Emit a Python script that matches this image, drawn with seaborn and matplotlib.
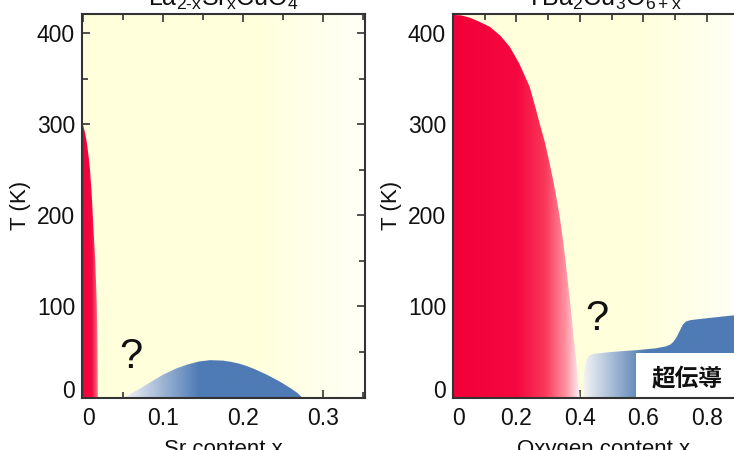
import numpy as np
import pandas as pd
import seaborn as sns
import matplotlib
matplotlib.use("Agg")
import matplotlib.pyplot as plt
from matplotlib.colors import LinearSegmentedColormap
from matplotlib.patches import Rectangle
import matplotlib.transforms as mtrans

# ---------------- data ----------------
lsco_title = r"La$_{\mathrm{2\text{-}x}}$Sr$_{\mathrm{x}}$CuO$_{\mathrm{4}}$"
ybco_title = r"YBa$_{\mathrm{2}}$Cu$_{\mathrm{3}}$O$_{\mathrm{6+x}}$"

lsco_xlabel = "Sr content x"
ybco_xlabel = "Oxygen content x"
ylabel = "T (K)"

# La2-xSrxCuO4 antiferromagnetic boundary (T, x)
lsco_af_T = [300, 295, 290, 280, 265, 250, 225, 200, 175, 150, 125, 100, 75, 50, 25, 0]
lsco_af_x = [0.0, 0.0015, 0.003, 0.005, 0.0072, 0.009, 0.011, 0.0125, 0.014, 0.0155,
             0.0166, 0.0175, 0.0181, 0.0185, 0.0188, 0.019]
# La2-xSrxCuO4 superconducting dome
lsco_sc_x = [0.052, 0.06, 0.07, 0.085, 0.10, 0.117, 0.13, 0.145, 0.159, 0.175, 0.186,
             0.196, 0.205, 0.215, 0.23, 0.245, 0.26, 0.268, 0.274]
lsco_sc_T = [0, 4.5, 9, 17, 25, 32, 36, 39.5, 41, 40.5, 39, 37, 34.5, 31, 25, 18, 10, 5, 0]

# YBa2Cu3O6+x antiferromagnetic boundary
ybco_af_T = [420, 419.5, 417, 413, 407, 397, 385, 366, 341, 316, 300, 280, 260, 240,
             220, 200, 175, 150, 125, 100, 75, 50, 25, 0]
ybco_af_x = [0.0, 0.025, 0.053, 0.08, 0.116, 0.15, 0.179, 0.21, 0.242, 0.262, 0.274,
             0.29, 0.303, 0.315, 0.326, 0.336, 0.346, 0.355, 0.363, 0.371, 0.378,
             0.386, 0.393, 0.40]
# YBa2Cu3O6+x superconducting region
ybco_sc_x = [0.41, 0.411, 0.413, 0.417, 0.423, 0.432, 0.445, 0.50, 0.58, 0.64, 0.67,
             0.685, 0.695, 0.705, 0.715, 0.725, 0.735, 0.75, 0.80, 0.88, 0.95]
ybco_sc_T = [0, 10, 25, 36, 43, 46.5, 48, 50, 52, 54, 56, 58, 61, 66, 73, 80, 83.5,
             85, 87, 90, 92]

lsco_xticks = [0, 0.1, 0.2, 0.3]
lsco_xtick_labels = ["0", "0.1", "0.2", "0.3"]
ybco_xticks = [0, 0.2, 0.4, 0.6, 0.8]
ybco_xtick_labels = ["0", "0.2", "0.4", "0.6", "0.8"]
yticks = [0, 100, 200, 300, 400]
ytick_labels = ["0", "100", "200", "300", "400"]

sc_label = "超伝導"

# ---------------- style ----------------
sns.set_theme(style="ticks")
plt.rcParams["font.family"] = ["Liberation Sans", "DejaVu Sans"]
plt.rcParams["mathtext.fontset"] = "custom"
plt.rcParams["mathtext.rm"] = "Liberation Sans"
plt.rcParams["mathtext.it"] = "Liberation Sans:italic"

RED = "#F2003A"
BLUE = "#4F7BB5"
SPINE = "#333333"

bg_cmap_l = LinearSegmentedColormap.from_list(
    "bgl", [(0, "#FFFFDC"), (0.62, "#FFFFDC"), (1.0, "#FFFFF8")])
bg_cmap_r = LinearSegmentedColormap.from_list(
    "bgr", [(0, "#FFFFDC"), (0.62, "#FFFFDC"), (1.0, "#FFFFFA")])
red_cmap_l = LinearSegmentedColormap.from_list(
    "redl", [(0, RED), (0.55, "#F5083F"), (0.85, "#FB5C78"), (1.0, "#FFD0D8")])
red_cmap_r = LinearSegmentedColormap.from_list(
    "redr", [(0, RED), (0.5, "#F5083F"), (0.72, "#FA3A5C"), (0.88, "#FF95A3"), (1.0, "#FFFFFF")])
blue_cmap_l = LinearSegmentedColormap.from_list(
    "bluel", [(0, "#F2F4F6"), (0.42, BLUE), (1.0, BLUE)])
blue_cmap_r = LinearSegmentedColormap.from_list(
    "bluer", [(0, "#F4F5F4"), (0.36, BLUE), (1.0, BLUE)])

W, H = 734, 450
fig = plt.figure(figsize=(W / 100, H / 100), dpi=100)

ymax = 421
ax1 = fig.add_axes([82 / W, (H - 397.5) / H, (365 - 82) / W, (397.5 - 14) / H])
ax2 = fig.add_axes([453 / W, (H - 397.5) / H, 0.95 * 317 / W, (397.5 - 14) / H])

grad = np.linspace(0, 1, 512).reshape(1, -1)


def gradient(ax, x0, x1, y0, y1, cmap, z, clip=None):
    im = ax.imshow(grad, extent=[x0, x1, y0, y1], cmap=cmap, aspect="auto",
                   origin="lower", zorder=z, interpolation="bilinear")
    if clip is not None:
        im.set_clip_path(clip.get_paths()[0], ax.transData)
    return im


def style_axes(ax, xlim, xticks, xlabels, xminor, xlabel):
    ax.set_xlim(*xlim)
    ax.set_ylim(0, ymax)
    ax.set_xticks(xticks, labels=xlabels)
    ax.set_xticks(xminor, minor=True)
    ax.set_yticks(yticks, labels=ytick_labels)
    ax.set_yticks([50, 150, 250, 350], minor=True)
    ax.tick_params(which="both", direction="in", top=True, right=True,
                   color=SPINE, width=1.2, labelsize=16.5, labelcolor="#111111")
    ax.tick_params(which="major", length=6)
    ax.tick_params(which="minor", length=4)
    ax.tick_params(axis="x", which="major", pad=7)
    ax.tick_params(axis="y", which="major", pad=5)
    for s in ax.spines.values():
        s.set_color(SPINE)
        s.set_linewidth(1.5)
        s.set_visible(True)
    ax.set_xlabel(xlabel, fontsize=16, labelpad=6, color="#111111")
    ax.set_ylabel(ylabel, fontsize=16, labelpad=4, color="#111111")
    ax.grid(False)
    # shift the '0' labels as in the original
    xl = ax.get_xticklabels()
    xl[0].set_transform(xl[0].get_transform() +
                        mtrans.ScaledTranslation(6 / 100, 0, fig.dpi_scale_trans))
    yl = ax.get_yticklabels()
    yl[0].set_transform(yl[0].get_transform() +
                        mtrans.ScaledTranslation(0, 9 / 100, fig.dpi_scale_trans))


# ---------- left panel: La2-xSrxCuO4 ----------
xl1 = (-0.001, 0.3525)
gradient(ax1, xl1[0], xl1[1], 0, ymax, bg_cmap_l, 0)
af1 = ax1.fill_betweenx(lsco_af_T, 0, lsco_af_x, facecolor="none", linewidth=0)
gradient(ax1, 0, max(lsco_af_x), 0, max(lsco_af_T), red_cmap_l, 1, af1)
sc1 = ax1.fill_between(lsco_sc_x, 0, lsco_sc_T, facecolor="none", linewidth=0)
gradient(ax1, min(lsco_sc_x), max(lsco_sc_x), 0, max(lsco_sc_T), blue_cmap_l, 1, sc1)
ax1.text(0.06, 44.5, "?", fontsize=30, ha="center", va="center", color="#111111", zorder=3)
style_axes(ax1, xl1, lsco_xticks, lsco_xtick_labels,
           [0.05, 0.15, 0.25, 0.35], lsco_xlabel)
ax1.text(0.5, 1.0, lsco_title, transform=mtrans.offset_copy(ax1.transAxes, fig=fig, y=8, units="dots"),
         ha="center", va="baseline", fontsize=18, color="#111111")

# ---------- right panel: YBa2Cu3O6+x ----------
xl2 = (0, 0.95)
gradient(ax2, xl2[0], xl2[1], 0, ymax, bg_cmap_r, 0)
af2 = ax2.fill_betweenx(ybco_af_T, 0, ybco_af_x, facecolor="none", linewidth=0)
gradient(ax2, 0, 0.405, 0, max(ybco_af_T), red_cmap_r, 1, af2)
sc2 = ax2.fill_between(ybco_sc_x, 0, ybco_sc_T, facecolor="none", linewidth=0)
gradient(ax2, min(ybco_sc_x), max(ybco_sc_x), 0, max(ybco_sc_T), blue_cmap_r, 1, sc2)
ax2.add_patch(Rectangle((0.576, 0), 0.5, 49, facecolor="white", edgecolor="none", zorder=2))
ax2.text(0.737, 21, sc_label, fontsize=17, fontweight="bold", ha="center", va="center",
         family=["Noto Sans CJK JP", "DejaVu Sans"], color="#111111", zorder=3)
ax2.text(0.453, 86, "?", fontsize=30, ha="center", va="center", color="#111111", zorder=3)
style_axes(ax2, xl2, ybco_xticks, ybco_xtick_labels,
           [0.1, 0.3, 0.5, 0.7, 0.9], ybco_xlabel)
ax2.text(0.5, 1.0, ybco_title, transform=mtrans.offset_copy(ax2.transAxes, fig=fig, y=8, units="dots"),
         ha="center", va="baseline", fontsize=18, color="#111111")

fig.savefig("out.png", dpi=100)
